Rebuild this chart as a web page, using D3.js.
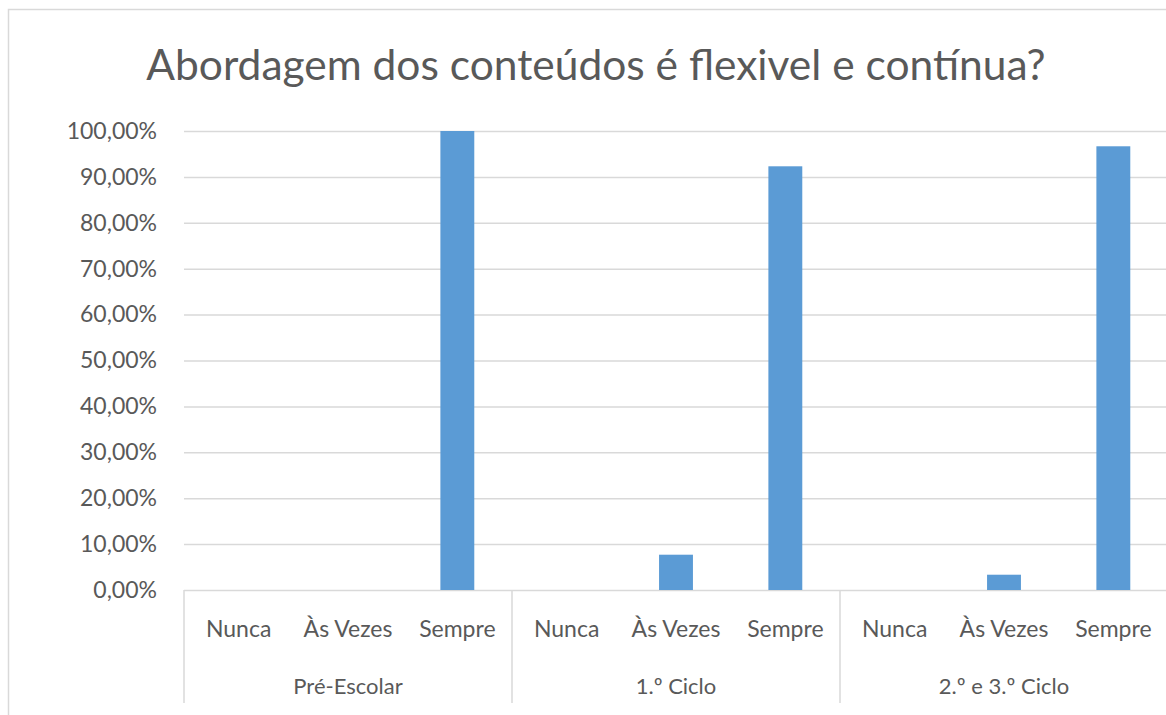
<!DOCTYPE html>
<html>
<head>
<meta charset="utf-8">
<script src="https://cdn.jsdelivr.net/npm/d3@7"></script>
<style>
  body { margin: 0; background: #fff; }
  svg { display: block; font-family: Lato, "Open Sans", sans-serif; }
</style>
</head>
<body>
<svg id="chart" width="1166" height="715"></svg>
<script>
// categories
var groups = ["Pré-Escolar", "1.º Ciclo", "2.º e 3.º Ciclo"];
var answers = ["Nunca", "Às Vezes", "Sempre"];

// share of answers per group
var preEscolar = [0, 0, 1];
var primeiroCiclo = [0, 0.0769, 0.9231];
var segundoTerceiroCiclo = [0, 0.0333, 0.9667];

var yTicks = [0, 0.1, 0.2, 0.3, 0.4, 0.5, 0.6, 0.7, 0.8, 0.9, 1];

var title = "Abordagem dos conteúdos é flexivel e contínua?";

var series = [preEscolar, primeiroCiclo, segundoTerceiroCiclo];
var data = [];
groups.forEach(function (g, i) {
  answers.forEach(function (a, j) {
    data.push({ group: g, answer: a, value: series[i][j] });
  });
});

var svg = d3.select("#chart");
var margin = { left: 184, right: 1168, top: 131, bottom: 590 };
var grey = "#595959";
var lineCol = "#d9d9d9";

// chart frame (cut at the right and bottom like the screenshot)
svg.append("path")
  .attr("d", "M8.5,720 V9.5 H1200")
  .attr("fill", "none")
  .attr("stroke", lineCol)
  .attr("stroke-width", 1.5);

// title
svg.append("text")
  .attr("x", 596)
  .attr("y", 80)
  .attr("text-anchor", "middle")
  .style("font-size", "42.5px")
  .style("fill", grey)
  .text(title);

// scales
var y = d3.scaleLinear().domain([0, 1]).range([margin.bottom, margin.top]);
var x0 = d3.scaleBand().domain(groups).range([margin.left, margin.right]);
var x1 = d3.scaleBand().domain(answers).range([0, x0.bandwidth()])
  .paddingInner(0.69).paddingOuter(0.345);

var ptLocale = d3.formatLocale({ decimal: ",", thousands: ".", grouping: [3], currency: ["", " €"] });
var pct = ptLocale.format(".2%");

// gridlines
svg.append("g")
  .attr("transform", "translate(" + margin.left + ",0)")
  .call(d3.axisLeft(y).tickValues(yTicks).tickSize(-(margin.right - margin.left)).tickFormat(""))
  .call(function (g) { g.select(".domain").remove(); })
  .call(function (g) { g.selectAll("line").attr("stroke", lineCol).attr("stroke-width", 1.5); });

// y labels
svg.append("g")
  .attr("transform", "translate(157,0)")
  .call(d3.axisLeft(y).tickValues(yTicks).tickSize(0).tickPadding(0).tickFormat(pct))
  .attr("font-family", null)
  .attr("font-size", null)
  .call(function (g) { g.select(".domain").remove(); })
  .call(function (g) {
    g.selectAll("text")
      .style("font-size", "23px")
      .style("fill", grey);
  });

// bars
svg.append("g")
  .selectAll("rect")
  .data(data)
  .enter()
  .append("rect")
  .attr("x", function (d) { return x0(d.group) + x1(d.answer); })
  .attr("width", x1.bandwidth())
  .attr("y", function (d) { return y(d.value); })
  .attr("height", function (d) { return y(0) - y(d.value); })
  .attr("fill", "#5b9bd5");

// multi-level category axis
var axisG = svg.append("g");
var seps = groups.map(function (g) { return x0(g); }).concat([margin.right]);
axisG.selectAll("line.sep")
  .data(seps)
  .enter()
  .append("line")
  .attr("class", "sep")
  .attr("x1", function (d) { return d; })
  .attr("x2", function (d) { return d; })
  .attr("y1", margin.bottom)
  .attr("y2", 703)
  .attr("stroke", lineCol)
  .attr("stroke-width", 1.5);

axisG.selectAll("text.cat")
  .data(data)
  .enter()
  .append("text")
  .attr("class", "cat")
  .attr("x", function (d) { return x0(d.group) + x1(d.answer) + x1.bandwidth() / 2; })
  .attr("y", 637)
  .attr("text-anchor", "middle")
  .style("font-size", "23px")
  .style("fill", grey)
  .text(function (d) { return d.answer; });

axisG.selectAll("text.grp")
  .data(groups)
  .enter()
  .append("text")
  .attr("class", "grp")
  .attr("x", function (d) { return x0(d) + x0.bandwidth() / 2; })
  .attr("y", 694)
  .attr("text-anchor", "middle")
  .style("font-size", "22px")
  .style("fill", grey)
  .text(function (d) { return d; });
</script>
</body>
</html>
